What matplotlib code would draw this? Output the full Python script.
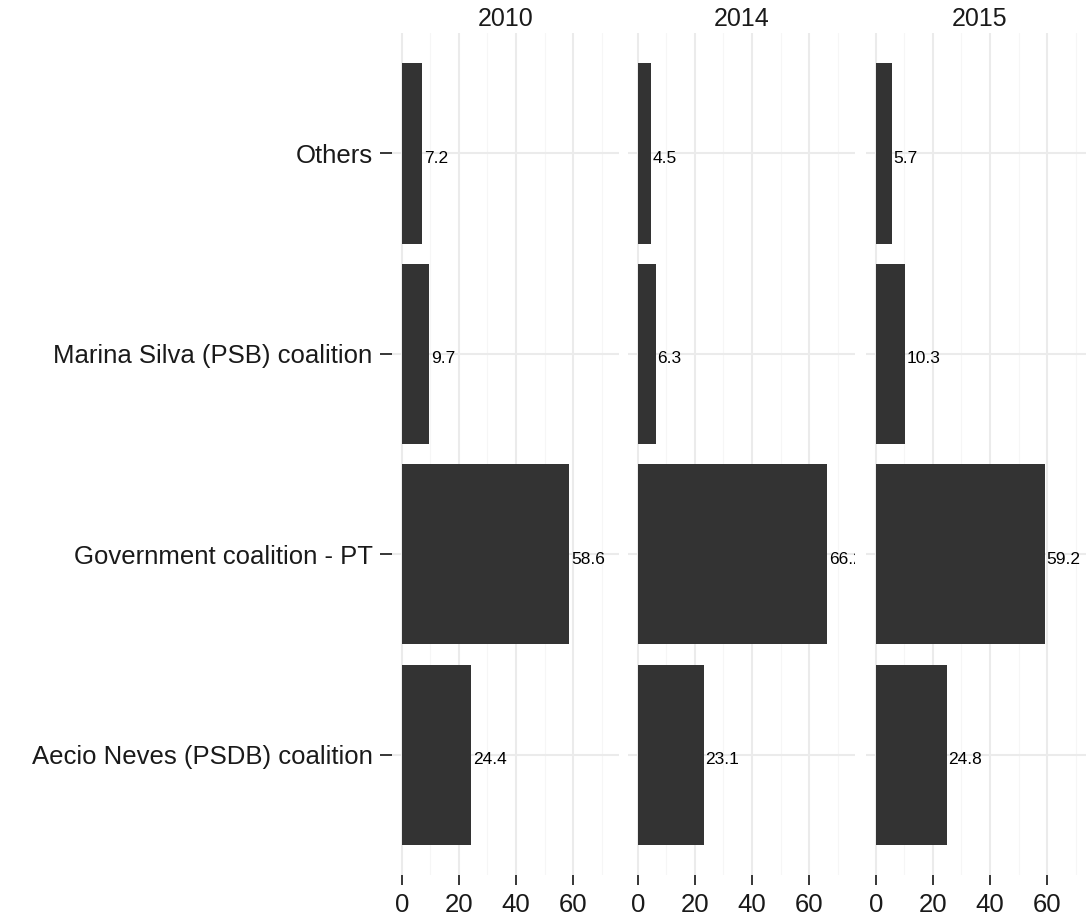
import matplotlib
matplotlib.use("Agg")
import matplotlib.pyplot as plt

plt.rcParams['font.family'] = ['Liberation Sans', 'DejaVu Sans']

categories = ["Aecio Neves (PSDB) coalition", "Government coalition - PT",
              "Marina Silva (PSB) coalition", "Others"]
years = ["2010", "2014", "2015"]
values_2010 = [24.4, 58.6, 9.7, 7.2]
values_2014 = [23.1, 66.2, 6.3, 4.5]
values_2015 = [24.8, 59.2, 10.3, 5.7]
series = [values_2010, values_2014, values_2015]
x_ticks = [0, 20, 40, 60]
x_minor = [10, 30, 50, 70]

W, H = 1086, 917
fig = plt.figure(figsize=(W / 100, H / 100), dpi=100)

lefts = [392, 628, 866]
pw = 227
top, bottom = 33, 875
bar_color = "#333333"
grid_major = "#EBEBEB"
grid_minor = "#F6F6F6"

ypos = list(range(1, len(categories) + 1))

for i, (yr, vals) in enumerate(zip(years, series)):
    ax = fig.add_axes([lefts[i] / W, 1 - bottom / H, pw / W, (bottom - top) / H])
    ax.set_xlim(-3.4, 76.0)
    ax.set_ylim(0.4, 4.6)
    for s in ax.spines.values():
        s.set_visible(False)
    for m in x_minor:
        ax.axvline(m, color=grid_minor, lw=0.8, zorder=0)
    for m in x_ticks:
        ax.axvline(m, color=grid_major, lw=1.5, zorder=0)
    for yv in ypos:
        ax.axhline(yv, color=grid_major, lw=1.5, zorder=0)
    ax.barh(ypos, vals, height=0.9, color=bar_color, zorder=2)
    for yv, v in zip(ypos, vals):
        ax.annotate(f"{v}", (v, yv), xytext=(1.2, -3.5), textcoords="offset points",
                    ha="left", va="center", fontsize=12.5, color="black",
                    clip_on=True, zorder=3)
    ax.set_xticks(x_ticks)
    ax.set_xticklabels([str(t) for t in x_ticks])
    ax.tick_params(axis="x", length=7, width=1.1, color="black", pad=6,
                   labelsize=18.5, labelcolor="#1A1A1A")
    ax.set_yticks(ypos)
    if i == 0:
        ax.set_yticklabels(categories)
        ax.tick_params(axis="y", length=9, width=1.1, color="black", pad=5,
                       labelsize=18.5, labelcolor="#1A1A1A")
    else:
        ax.set_yticklabels([])
        ax.tick_params(axis="y", length=0)
    ax.set_title(yr, fontsize=18, color="#1A1A1A", pad=5)

fig.savefig("out.png", dpi=100, facecolor="white")
